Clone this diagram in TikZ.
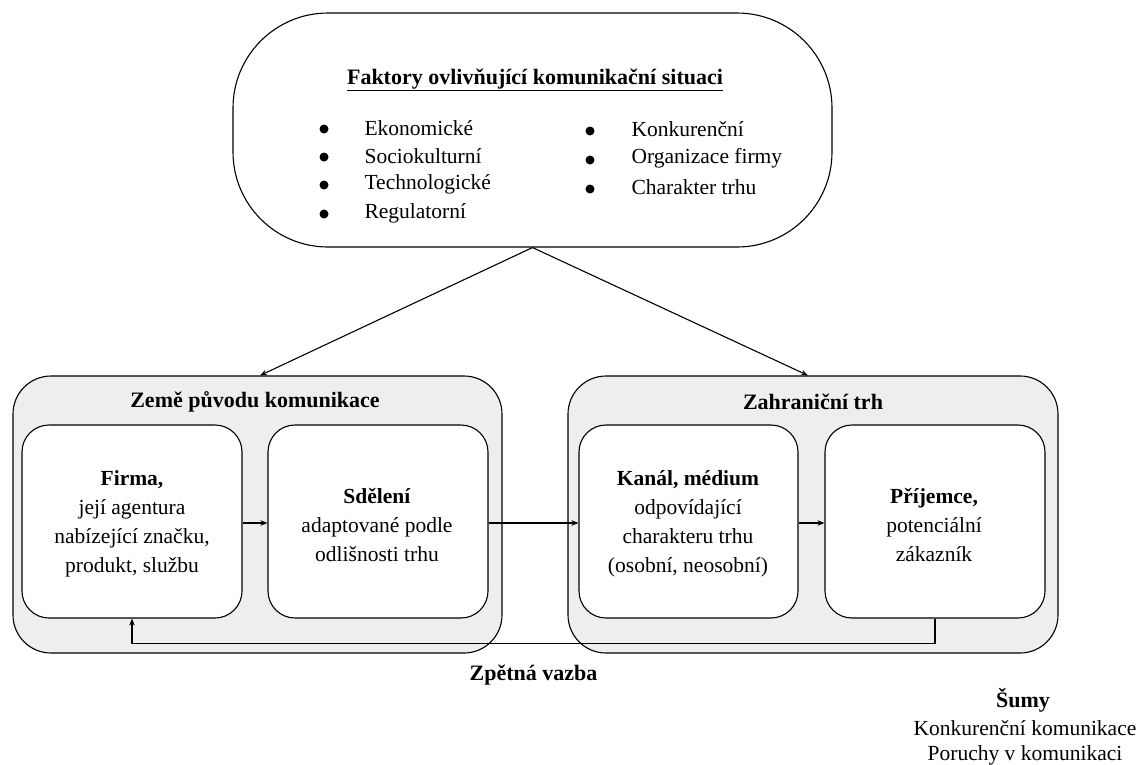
\documentclass[tikz,border=0pt]{standalone}
\usepackage{fontspec}
\setmainfont{LiberationSerif}[Extension=.ttf, UprightFont=*-Regular, BoldFont=*-Bold, ItalicFont=*-Italic, BoldItalicFont=*-BoldItalic]
\usetikzlibrary{arrows.meta,calc}
\definecolor{boxgray}{HTML}{EEEEEE}
\begin{document}
\begin{tikzpicture}[x=1pt,y=-1pt,
  line width=1.1pt,
  arr/.style={-{Stealth[length=7pt,width=5.5pt]}},
  container/.style={draw, fill=boxgray, rounded corners=38pt, inner sep=0pt, minimum height=277pt},
  innerbox/.style={draw, fill=white, rounded corners=27pt, inner sep=0pt, minimum width=220pt, minimum height=193pt},
  txt/.style={font=\fontsize{21.5}{29}\selectfont, align=center, inner sep=0pt},
  btxt/.style={font=\fontsize{22}{29}\selectfont\bfseries, align=center, inner sep=0pt},
  item/.style={font=\fontsize{21.5}{29}\selectfont, anchor=west, inner sep=0pt},
  dot/.style={circle, fill=black, inner sep=0pt, minimum size=9pt},
]
\useasboundingbox (0,0) rectangle (1145,764);
% top factors shape
\draw[fill=white, rounded corners=95pt] (233,13) rectangle (832,247);
\node[minimum width=599pt, minimum height=234pt, inner sep=0pt] (factors) at (532.5,130) {};
\node[btxt] (ftitle) at (535,80) {\underline{Faktory ovlivňující komunikační situaci}};
\node[dot] (b1) at (324,129) {};
\node[dot] (b2) at (324,157) {};
\node[dot] (b3) at (324,185) {};
\node[dot] (b4) at (324,214) {};
\node[item] (i1) at (364,128) {Ekonomické};
\node[item] (i2) at (364,156) {Sociokulturní};
\node[item] (i3) at (364,184) {Technologické};
\node[item] (i4) at (364,213) {Regulatorní};
\node[dot] (b5) at (590,131) {};
\node[dot] (b6) at (590,160) {};
\node[dot] (b7) at (590,189) {};
\node[item] (i5) at (631,129) {Konkurenční};
\node[item] (i6) at (631,158) {Organizace firmy};
\node[item] (i7) at (631,187) {Charakter trhu};

% containers
\node[container, minimum width=489pt] (origin) at (257.5,514.5) {};
\node[container, minimum width=490pt] (foreign) at (813,514.5) {};
\node[btxt] (otitle) at (255,402) {Země původu komunikace};
\node[btxt] (ftitle2) at (813,402) {Zahraniční trh};

% inner boxes
\node[innerbox] (firma) at (132,521.5) {};
\node[innerbox] (sdeleni) at (378,521.5) {};
\node[innerbox, minimum width=219pt] (kanal) at (688.5,521.5) {};
\node[innerbox] (prij) at (935,521.5) {};

\node[txt] (firmat) at (132,524) {\textbf{Firma,}\\její agentura\\nabízející značku,\\produkt, službu};
\node[txt] (sdelenit) at (377,525) {\textbf{Sdělení}\\adaptované podle\\odlišnosti trhu};
\node[txt] (kanalt) at (688,524) {\textbf{Kanál, médium}\\odpovídající\\charakteru trhu\\(osobní, neosobní)};
\node[txt] (prijt) at (934,525) {\textbf{Příjemce,}\\potenciální\\zákazník};

% connectors
\coordinate (oin) at ($(origin.north)+(2.5,0)$);
\coordinate (fin) at ($(foreign.north)+(-5,0)$);
\draw[arr] (factors.south) -- (oin);
\draw[arr] (factors.south) -- (fin);
\draw[arr] (firma.east |- 0,523) -- (sdeleni.west |- 0,523);
\draw[arr] (sdeleni.east |- 0,523) -- (kanal.west |- 0,523);
\draw[arr] (kanal.east |- 0,523) -- (prij.west |- 0,523);
\coordinate (fb) at ($(prij.south)+(0,25)$);
\draw[arr] (prij.south) -- (fb) -| (firma.south);

% labels
\node[btxt] (zpetna) at (533.5,675) {Zpětná vazba};
\node[btxt] (sumy) at (1023,700) {Šumy};
\node[txt] (sum1) at (1025,728) {Konkurenční komunikace};
\node[txt] (sum2) at (1025,755) {Poruchy v komunikaci};
\end{tikzpicture}
\end{document}
